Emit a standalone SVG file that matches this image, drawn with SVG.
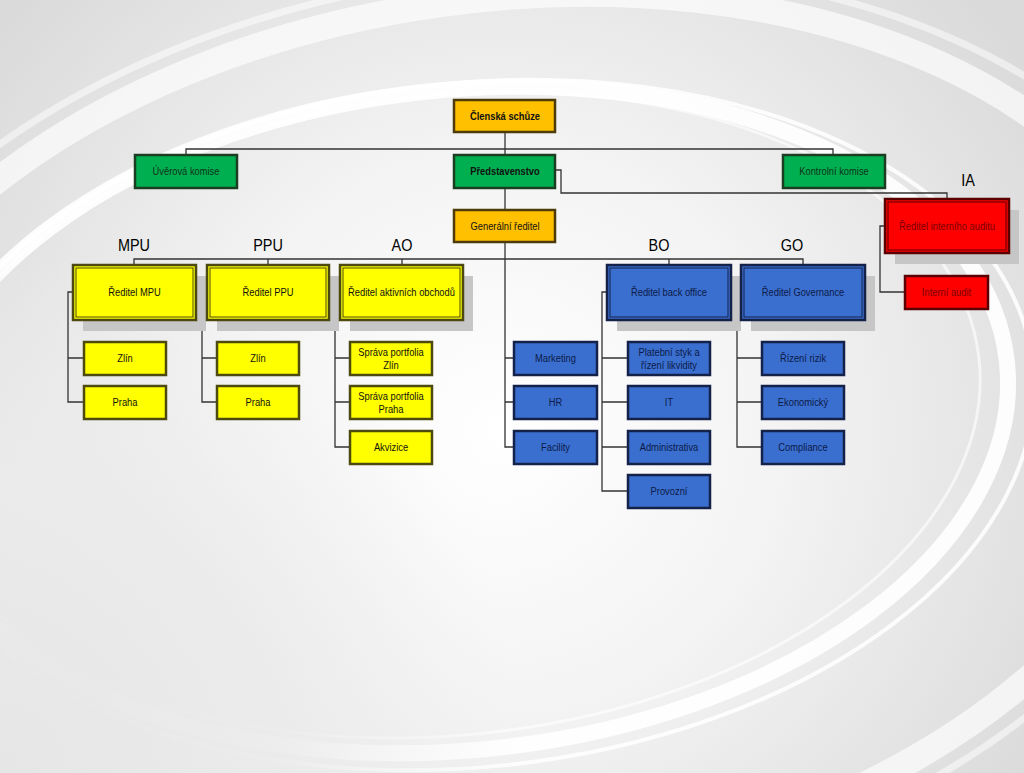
<svg xmlns="http://www.w3.org/2000/svg" width="1024" height="773" viewBox="0 0 1024 773">
<defs>
<radialGradient id="bg" cx="500" cy="430" r="640" gradientUnits="userSpaceOnUse">
<stop offset="0" stop-color="#ffffff"/>
<stop offset="0.45" stop-color="#f3f3f3"/>
<stop offset="1" stop-color="#dadada"/>
</radialGradient>
<radialGradient id="fade" cx="0" cy="773" r="520" gradientUnits="userSpaceOnUse">
<stop offset="0" stop-color="#e6e6e6" stop-opacity="1"/>
<stop offset="0.55" stop-color="#ebebeb" stop-opacity="0.9"/>
<stop offset="1" stop-color="#efefef" stop-opacity="0"/>
</radialGradient>
<style>
.o{fill:#ffc000;stroke:#4d3b0a;stroke-width:2.5}
.g{fill:#00b050;stroke:#1b3d22;stroke-width:2.5}
.y{fill:#ffff00;stroke:#4d4a10;stroke-width:2.5}
.yi{fill:none;stroke:#4d4a10;stroke-width:1}
.b{fill:#3a6fcf;stroke:#14224a;stroke-width:2.5}
.bi{fill:none;stroke:#14224a;stroke-width:1}
.r{fill:#ff0000;stroke:#5a0000;stroke-width:2.5}
.ri{fill:none;stroke:#5a0000;stroke-width:1}
.sh{fill:#c6c6c6}
.t{font-family:"Liberation Sans",Arial,sans-serif;font-size:11px;text-anchor:middle;dominant-baseline:central;fill:#111}
.tb{font-weight:bold}
.tg{fill:#10301a}
.tbl{fill:#0c1a48}
.tr{fill:#7a0000}
.lbl{font-family:"Liberation Sans",Arial,sans-serif;font-size:17px;text-anchor:middle;fill:#000}
.c{fill:none;stroke:#333;stroke-width:1.3}
.sw{fill:none;stroke:#fff}
</style>
</defs>
<rect width="1024" height="773" fill="url(#bg)"/>
<g id="background-swooshes">
<ellipse class="sw" cx="500" cy="440" rx="690" ry="440" transform="rotate(-8 500 440)" stroke-width="26" opacity="0.65"/>
<ellipse class="sw" cx="500" cy="440" rx="725" ry="465" transform="rotate(-8 500 440)" stroke-width="7" opacity="0.5"/>
<ellipse class="sw" cx="460" cy="420" rx="550" ry="330" transform="rotate(-6 460 420)" stroke-width="16" opacity="0.9"/>
<ellipse class="sw" cx="470" cy="425" rx="566" ry="342" transform="rotate(-6 470 425)" stroke-width="4" opacity="0.85"/>
<ellipse class="sw" cx="450" cy="415" rx="532" ry="320" transform="rotate(-6 450 415)" stroke-width="3" opacity="0.6"/>
<rect width="1024" height="773" fill="url(#fade)"/>
</g>
<g id="connectors">
<path class="c" d="M505,132 V210"/>
<path class="c" d="M186,155 V149 H833 V155"/>
<path class="c" d="M556,170 H561 V193 H947 V199"/>
<path class="c" d="M885,226 H880 V292 H905"/>
<path class="c" d="M505,242 V447 H514"/>
<path class="c" d="M505,358 H514 M505,402 H514"/>
<path class="c" d="M134,265 V259 H803 V265 M268,259 V265 M402,259 V265 M669,259 V265"/>
<path class="c" d="M73,292 H68 V402 H84 M68,358 H84"/>
<path class="c" d="M207,292 H202 V402 H217 M202,358 H217"/>
<path class="c" d="M340,292 H335 V447 H350 M335,358 H350 M335,402 H350"/>
<path class="c" d="M607,292 H602 V491 H628 M602,358 H628 M602,402 H628 M602,447 H628"/>
<path class="c" d="M741,292 H737 V447 H762 M737,358 H762 M737,402 H762"/>
</g>
<g id="labels">
<text class="lbl" transform="translate(134 251) scale(0.85 1)">MPU</text>
<text class="lbl" transform="translate(268 251) scale(0.85 1)">PPU</text>
<text class="lbl" transform="translate(402 251) scale(0.85 1)">AO</text>
<text class="lbl" transform="translate(659 251) scale(0.85 1)">BO</text>
<text class="lbl" transform="translate(792 251) scale(0.85 1)">GO</text>
<text class="lbl" transform="translate(968 186) scale(0.85 1)">IA</text>
</g>
<g id="clenska-schuze"><rect class="o" x="454" y="100" width="101" height="32"/><text class="t tb" transform="translate(505 116) scale(0.85 1)">Členská schůze</text></g>
<g id="uverova-komise"><rect class="g" x="135" y="155" width="102" height="33"/><text class="t tg" transform="translate(186 171.5) scale(0.85 1)">Úvěrová komise</text></g>
<g id="predstavenstvo"><rect class="g" x="454" y="155" width="101" height="33"/><text class="t tb" transform="translate(505 171.5) scale(0.85 1)">Představenstvo</text></g>
<g id="kontrolni-komise"><rect class="g" x="783" y="155" width="102" height="33"/><text class="t tg" transform="translate(834 171.5) scale(0.85 1)">Kontrolní komise</text></g>
<g id="generalni-reditel"><rect class="o" x="454" y="210" width="101" height="32"/><text class="t" transform="translate(505 226) scale(0.85 1)">Generální ředitel</text></g>
<g id="reditel-ia"><rect class="sh" x="895" y="210" width="124" height="54"/><rect class="r" x="885" y="199" width="124" height="54"/><rect class="ri" x="888" y="202" width="118" height="48"/><text class="t tr" transform="translate(947 226) scale(0.85 1)">Ředitel interního auditu</text></g>
<g id="interni-audit"><rect class="r" x="905" y="276" width="83" height="33"/><text class="t tr" transform="translate(946.5 292.5) scale(0.85 1)">Interní audit</text></g>
<g id="reditel-mpu"><rect class="sh" x="83" y="276" width="123" height="55"/><rect class="y" x="73" y="265" width="123" height="55"/><rect class="yi" x="76" y="268" width="117" height="49"/><text class="t" transform="translate(134.5 292.5) scale(0.85 1)">Ředitel MPU</text></g>
<g id="reditel-ppu"><rect class="sh" x="217" y="276" width="122" height="55"/><rect class="y" x="207" y="265" width="122" height="55"/><rect class="yi" x="210" y="268" width="116" height="49"/><text class="t" transform="translate(268 292.5) scale(0.85 1)">Ředitel PPU</text></g>
<g id="reditel-ao"><rect class="sh" x="350" y="276" width="123" height="55"/><rect class="y" x="340" y="265" width="123" height="55"/><rect class="yi" x="343" y="268" width="117" height="49"/><text class="t" transform="translate(401.5 292.5) scale(0.85 1)">Ředitel aktivních obchodů</text></g>
<g id="reditel-bo"><rect class="sh" x="617" y="276" width="124" height="55"/><rect class="b" x="607" y="265" width="124" height="55"/><rect class="bi" x="610" y="268" width="118" height="49"/><text class="t tbl" transform="translate(669 292.5) scale(0.85 1)">Ředitel back office</text></g>
<g id="reditel-go"><rect class="sh" x="751" y="276" width="124" height="55"/><rect class="b" x="741" y="265" width="124" height="55"/><rect class="bi" x="744" y="268" width="118" height="49"/><text class="t tbl" transform="translate(803 292.5) scale(0.85 1)">Ředitel Governance</text></g>
<g id="mpu-zlin"><rect class="y" x="84" y="342" width="82" height="33"/><text class="t" transform="translate(125 358.5) scale(0.85 1)">Zlín</text></g>
<g id="mpu-praha"><rect class="y" x="84" y="386" width="82" height="33"/><text class="t" transform="translate(125 402.5) scale(0.85 1)">Praha</text></g>
<g id="ppu-zlin"><rect class="y" x="217" y="342" width="82" height="33"/><text class="t" transform="translate(258 358.5) scale(0.85 1)">Zlín</text></g>
<g id="ppu-praha"><rect class="y" x="217" y="386" width="82" height="33"/><text class="t" transform="translate(258 402.5) scale(0.85 1)">Praha</text></g>
<g id="ao-sprava-zlin"><rect class="y" x="350" y="342" width="82" height="33"/><text class="t" transform="translate(391 352) scale(0.85 1)">Správa portfolia</text><text class="t" transform="translate(391 365) scale(0.85 1)">Zlín</text></g>
<g id="ao-sprava-praha"><rect class="y" x="350" y="386" width="82" height="33"/><text class="t" transform="translate(391 396) scale(0.85 1)">Správa portfolia</text><text class="t" transform="translate(391 409) scale(0.85 1)">Praha</text></g>
<g id="ao-akvizice"><rect class="y" x="350" y="431" width="82" height="33"/><text class="t" transform="translate(391 447.5) scale(0.85 1)">Akvizice</text></g>
<g id="marketing"><rect class="b" x="514" y="342" width="83" height="33"/><text class="t tbl" transform="translate(555.5 358.5) scale(0.85 1)">Marketing</text></g>
<g id="hr"><rect class="b" x="514" y="386" width="83" height="33"/><text class="t tbl" transform="translate(555.5 402.5) scale(0.85 1)">HR</text></g>
<g id="facility"><rect class="b" x="514" y="431" width="83" height="33"/><text class="t tbl" transform="translate(555.5 447.5) scale(0.85 1)">Facility</text></g>
<g id="platebni-styk"><rect class="b" x="628" y="342" width="82" height="33"/><text class="t tbl" transform="translate(669 352) scale(0.85 1)">Platební styk a</text><text class="t tbl" transform="translate(669 365) scale(0.85 1)">řízení likvidity</text></g>
<g id="it"><rect class="b" x="628" y="386" width="82" height="33"/><text class="t tbl" transform="translate(669 402.5) scale(0.85 1)">IT</text></g>
<g id="administrativa"><rect class="b" x="628" y="431" width="82" height="33"/><text class="t tbl" transform="translate(669 447.5) scale(0.85 1)">Administrativa</text></g>
<g id="provozni"><rect class="b" x="628" y="475" width="82" height="33"/><text class="t tbl" transform="translate(669 491.5) scale(0.85 1)">Provozní</text></g>
<g id="rizeni-rizik"><rect class="b" x="762" y="342" width="82" height="33"/><text class="t tbl" transform="translate(803 358.5) scale(0.85 1)">Řízení rizik</text></g>
<g id="ekonomicky"><rect class="b" x="762" y="386" width="82" height="33"/><text class="t tbl" transform="translate(803 402.5) scale(0.85 1)">Ekonomický</text></g>
<g id="compliance"><rect class="b" x="762" y="431" width="82" height="33"/><text class="t tbl" transform="translate(803 447.5) scale(0.85 1)">Compliance</text></g>
</svg>
